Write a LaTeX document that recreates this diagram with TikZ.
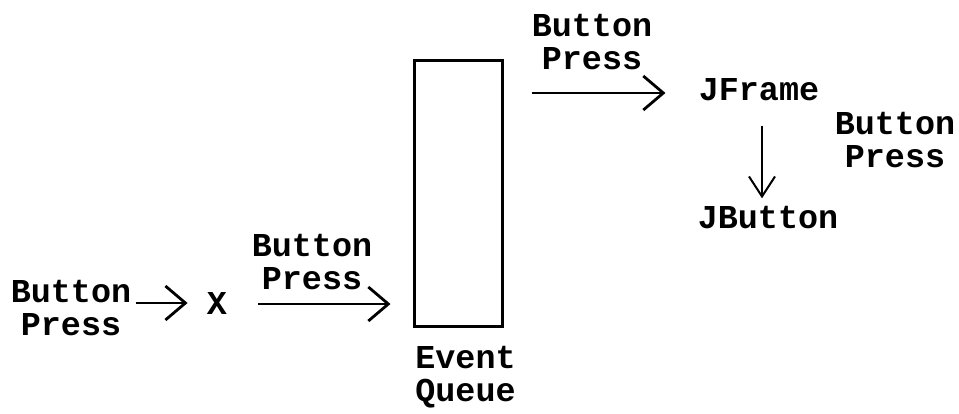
\documentclass[tikz,border=0pt]{standalone}
\usepackage{fontspec}
\setmonofont{Liberation Mono}
\usetikzlibrary{arrows.meta}
\begin{document}
\begin{tikzpicture}[x=0.5pt,y=-0.5pt,
        txt/.style={font=\fontsize{16.7pt}{16.5pt}\selectfont\ttfamily\bfseries,inner sep=0pt,align=center},
        arr/.style={line width=1.4pt,-{Straight Barb[length=10pt,width=17pt,line width=1.4pt]}}]
        \useasboundingbox (0,0) rectangle (959,413);
        \node[txt] (press) at (71,308) {Button\\Press};
        \node[txt] (x) at (217,303) {X};
        \node[draw,line width=1.5pt,minimum width=44pt,minimum height=133pt,inner sep=0pt] (queue) at (458,193) {};
        \node[txt,anchor=west,align=left] (eq) at (415,377) {Event\\Queue};
        \node[txt] (jframe) at (759,90) {JFrame};
        \node[txt] (jbutton) at (768,218) {JButton};
        \node[txt] (l1) at (312,262) {Button\\Press};
        \node[txt] (l2) at (592,42) {Button\\Press};
        \node[txt] (l3) at (895,140) {Button\\Press};
        \draw[arr,shorten <=2pt,shorten >=9.5pt] (press.east |- x) -- (x.west);
        \draw[arr,shorten <=15.5pt,shorten >=11pt] ([yshift=-0.5pt]x.east) -- ([yshift=-0.5pt]x.east -| queue.west);
        \draw[arr,shorten <=14pt,shorten >=16.5pt] ([yshift=-1.5pt]jframe.west -| queue.east) -- ([yshift=-1.5pt]jframe.west);
        \draw[line width=1pt,-{Straight Barb[length=10pt,width=13pt,line width=1pt]},shorten <=12pt,shorten >=4pt] ([xshift=1.5pt]jframe.south) -- ([xshift=1.5pt]jframe.south |- jbutton.north);
        \end{tikzpicture}
\end{document}
